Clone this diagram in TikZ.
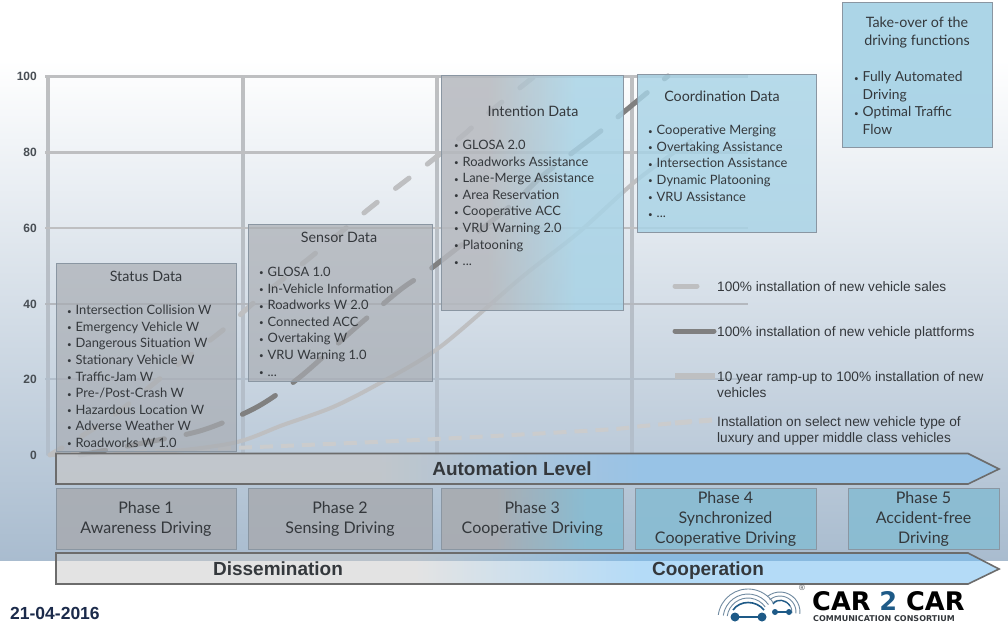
\documentclass[tikz,border=0pt]{standalone}
\usepackage{fontspec}
\setmainfont{Lato}
\newfontfamily\arialfont{Liberation Sans}
\newfontfamily\logofont{DejaVu Sans}
\usetikzlibrary{positioning}
\definecolor{c2c_text}{RGB}{52,56,60}
\definecolor{c2c_axis}{RGB}{72,78,84}
\definecolor{c2c_grid}{RGB}{190,191,193}
\definecolor{c2c_grey}{RGB}{168,172,178}
\definecolor{c2c_blue}{RGB}{168,211,230}
\definecolor{c2c_phase}{RGB}{136,188,210}
\definecolor{c2c_edge}{RGB}{138,150,162}
\definecolor{c2c_logo}{RGB}{30,90,135}
\definecolor{c2c_bgbot}{RGB}{169,188,207}
\definecolor{c2c_gridbot}{RGB}{178,190,203}
\definecolor{c2c_gridmid}{RGB}{180,184,190}
\definecolor{c2c_autoa}{RGB}{194,198,203}
\definecolor{c2c_autob}{RGB}{150,195,232}
\definecolor{c2c_dissa}{RGB}{201,201,201}
\definecolor{c2c_dissb}{RGB}{107,185,241}
\definecolor{c2c_date}{RGB}{27,42,74}
\pgfdeclarehorizontalshading{intentionfade}{100bp}{color(0bp)=(c2c_grey!85!white); color(38bp)=(c2c_grey!85!white); color(62bp)=(c2c_blue); color(100bp)=(c2c_blue)}
\pgfdeclarehorizontalshading{phasefade}{100bp}{color(0bp)=(c2c_grey); color(40bp)=(c2c_grey); color(65bp)=(c2c_phase); color(100bp)=(c2c_phase)}
\pgfdeclarehorizontalshading{autofade}{100bp}{color(0bp)=(c2c_autoa); color(42bp)=(c2c_autoa); color(56bp)=(c2c_autob); color(100bp)=(c2c_autob)}
\pgfdeclarehorizontalshading{dissfade}{100bp}{color(0bp)=(c2c_dissa); color(44bp)=(c2c_dissa); color(56bp)=(c2c_dissb); color(100bp)=(c2c_dissb)}
\newcommand{\lidot}{\makebox[8.5pt][l]{\raisebox{.6pt}{\fontsize{8}{8}\selectfont•}}}
\tikzset{
  gridline/.style={color=c2c_grid,line width=#1},
  databox/.style={draw=c2c_edge,line width=.7pt,fill=c2c_grey,fill opacity=.68,text opacity=1,rectangle,inner sep=0pt},
  bluebox/.style={databox,fill=c2c_blue,fill opacity=.82},
  phasebox/.style={databox,fill=c2c_grey,fill opacity=.9,text=c2c_text,align=center,font=\fontsize{16}{19.8}\selectfont},
  phaseblue/.style={phasebox,fill=c2c_phase},
  title/.style={text=c2c_text,inner sep=0pt,align=center,font=\fontsize{14.3}{18}\selectfont},
  itemlist/.style={text=c2c_text,inner sep=0pt,anchor=north west,align=left,font=\fontsize{12.9}{16.6}\selectfont},
  axislabel/.style={text=c2c_axis,inner sep=0pt,anchor=east,font=\arialfont\bfseries\fontsize{12}{14}\selectfont},
  legendtext/.style={text=c2c_text,inner sep=0pt,anchor=north west,align=left,font=\arialfont\fontsize{13.65}{15.6}\selectfont},
  bigarrow/.style={text=c2c_text,inner sep=0pt,text height=13.5pt,text depth=4pt,font=\arialfont\bfseries\fontsize{19}{22}\selectfont},
  salescurve/.style={color=c2c_grid,line width=5pt,line cap=round,dash pattern=on 17pt off 23pt,dash phase=3pt},
  platformcurve/.style={color=black!50,line width=5pt,line cap=round,dash pattern=on 38pt off 22pt,dash phase=12pt},
  rampcurve/.style={color=c2c_grid,line width=4pt},
  luxurycurve/.style={color=c2c_grid!80!white,line width=4pt,dash pattern=on 13pt off 8pt},
}
\begin{document}
\begin{tikzpicture}[x=1pt,y=-1pt]
    \useasboundingbox (0,0) rectangle (1008,626);
    % background
    \fill[white] (0,0) rectangle (1008,626);
    \shade[top color=white,bottom color=c2c_bgbot] (0,60) rectangle (1008,560);
    % grid
    \foreach \gx in {48,243,437,632} {
        \shade[top color=c2c_grid,bottom color=c2c_gridbot] (\gx-1.5,75) rectangle (\gx+1.5,455);
    }
    \draw[gridline=3pt] (45,76) -- (748,76);
    \draw[gridline=3pt] (45,152) -- (748,152);
    \draw[gridline=2.6pt] (45,228) -- (748,228);
    \draw[gridline=2.2pt,color=c2c_gridmid] (45,304) -- (748,304);
    \draw[gridline=2.2pt,color=c2c_gridbot] (45,379) -- (748,379);
    % axis
    \node[axislabel] (y100) at (37,76) {100};
    \node[axislabel] (y80) at (37,152) {80};
    \node[axislabel] (y60) at (37,228) {60};
    \node[axislabel] (y40) at (37,304) {40};
    \node[axislabel] (y20) at (37,379) {20};
    \node[axislabel] (y0) at (37,455) {0};
    % curves
    \draw[luxurycurve] plot[smooth] coordinates {(50,455) (233,448) (417,440) (600,430) (643,426) (707,420)};
    \draw[rampcurve] plot[smooth] coordinates {(50,455) (150,453) (233,443) (283,425) (333,407) (380,383) (440,347) (522,277) (578,233) (637,180) (692,140)};
    \draw[salescurve] plot[smooth] coordinates {(50,455) (110,418) (167,373) (223,330) (257,300) (317,252) (370,208) (400,185) (430,162) (467,132) (482,118) (526,83) (535,76)};
    \draw[platformcurve] plot[smooth] coordinates {(80,455) (143,443) (203,430) (257,407) (300,377) (353,330) (400,290) (433,267) (509,207) (541,177) (572,153) (602,130) (648,92) (668,76)};
    % data boxes
    \node[databox,minimum width=180pt,minimum height=188pt] (status) at (146,357) {};
    \node[databox,minimum width=184pt,minimum height=157pt] (sensor) at (340,302.5) {};
    \path[shading=intentionfade,shade,fill opacity=.85] (441.5,75) rectangle (623,310);
    \node[draw=c2c_edge,line width=.7pt,minimum width=181.5pt,minimum height=235pt,inner sep=0pt] (intention) at (532.25,192.5) {};
    \node[bluebox,minimum width=179pt,minimum height=158pt] (coordination) at (726.5,153) {};
    \node[bluebox,fill opacity=.95,minimum width=150pt,minimum height=145pt] (takeover) at (917,75) {};
    % titles
    \node[title] (statustitle) at (146,276) {Status Data};
    \node[title] (sensortitle) at (339,237) {Sensor Data};
    \node[title] (intentiontitle) at (533,111) {Intention Data};
    \node[title] (coordtitle) at (722,96) {Coordination Data};
    \node[title] (takeovertitle) at (917,33) {Take-over of the\\driving functions};
    % lists
    \node[itemlist] (statuslist) at (67,305) {\lidot Intersection Collision W\\\lidot Emergency Vehicle W\\\lidot Dangerous Situation W\\\lidot Stationary Vehicle W\\\lidot Traffic-Jam W\\\lidot Pre-/Post-Crash W\\\lidot Hazardous Location W\\\lidot Adverse Weather W\\\lidot Roadworks W 1.0};
    \node[itemlist] (sensorlist) at (259,267) {\lidot GLOSA 1.0\\\lidot In-Vehicle Information\\\lidot Roadworks W 2.0\\\lidot Connected ACC\\\lidot Overtaking W\\\lidot VRU Warning 1.0\\\lidot ...};
    \node[itemlist] (intentionlist) at (454,140) {\lidot GLOSA 2.0\\\lidot Roadworks Assistance\\\lidot Lane-Merge Assistance\\\lidot Area Reservation\\\lidot Cooperative ACC\\\lidot VRU Warning 2.0\\\lidot Platooning\\\lidot ...};
    \node[itemlist] (coordlist) at (648,125) {\lidot Cooperative Merging\\\lidot Overtaking Assistance\\\lidot Intersection Assistance\\\lidot Dynamic Platooning\\\lidot VRU Assistance\\\lidot ...};
    \node[itemlist,font=\fontsize{13.8}{17.5}\selectfont] (takeoverlist) at (854,71.5) {\lidot Fully Automated\\\hspace*{8.5pt}Driving\\\lidot Optimal Traffic\\\hspace*{8.5pt}Flow};
    % legend
    \coordinate (lega) at (675,286);
    \coordinate (legb) at (697,286);
    \draw[color=c2c_grid,line width=5pt,line cap=round] (lega) -- (legb);
    \coordinate (legc) at (675,331);
    \coordinate (legd) at (714,331);
    \draw[color=black!50,line width=5pt,line cap=round] (legc) -- (legd);
    \coordinate (lege) at (675,376);
    \coordinate (legf) at (715,376);
    \draw[color=c2c_grid,line width=6pt] (lege) -- (legf);
    \coordinate (legg) at (675,423);
    \coordinate (legh) at (712,420);
    \draw[luxurycurve,line width=5pt,dash pattern=on 16pt off 8pt] (legg) -- (legh);
    \node[legendtext] (salestext) at (717,281) {100\% installation of new vehicle sales};
    \node[legendtext] (platformtext) at (717,326) {100\% installation of new vehicle plattforms};
    \node[legendtext] (ramptext) at (717,371.5) {10 year ramp-up to 100\% installation of new\\vehicles};
    \node[legendtext] (luxurytext) at (717,416.5) {Installation on select new vehicle type of\\luxury and upper middle class vehicles};
    % automation arrow
    \path[shading=autofade,shade,draw=gray!85!black,line width=1.6pt,fill opacity=.92] (56,453.5) -- (968,453.5) -- (999,469) -- (968,484) -- (56,484) -- cycle;
    \node[bigarrow] (automation) at (512,471) {Automation Level};
    % phases
    \node[phasebox,minimum width=180pt,minimum height=61pt] (phase1) at (146,519) {Phase 1\\Awareness Driving};
    \node[phasebox,minimum width=184pt,minimum height=61pt] (phase2) at (340,519) {Phase 2\\Sensing Driving};
    \path[shading=phasefade,shade,fill opacity=.95] (441.5,488.5) rectangle (623,549.5);
    \node[draw=c2c_edge,line width=.7pt,minimum width=181.5pt,minimum height=61pt,inner sep=0pt,text=c2c_text,align=center,font=\fontsize{16}{19.8}\selectfont] (phase3) at (532.25,519) {Phase 3\\Cooperative Driving};
    \node[phaseblue,minimum width=181pt,minimum height=61pt] (phase4) at (725.5,519) {Phase 4\\Synchronized\\Cooperative Driving};
    \node[phaseblue,minimum width=151pt,minimum height=61pt] (phase5) at (923.5,519) {Phase 5\\Accident-free\\Driving};
    % dissemination arrow
    \path[shading=dissfade,shade,draw=gray!85!black,line width=1.6pt,fill opacity=.5] (56,553) -- (968,553) -- (999,569) -- (968,584) -- (56,584) -- cycle;
    \node[bigarrow] (dissemination) at (278,571) {Dissemination};
    \node[bigarrow] (cooperation) at (708,571) {Cooperation};
    % date
    \node[inner sep=0pt,anchor=west,text=c2c_date,font=\arialfont\bfseries\fontsize{17.5}{20}\selectfont] (date) at (10,613) {21-04-2016};
    % logo
    \foreach \rr in {21,25,30} {
        \draw[c2c_grey!60!c2c_logo,line width=.9pt] (748,619) ++(172:\rr pt) arc[start angle=172,end angle=35,radius=\rr pt];
    }
    \foreach \rr in {12,16,20} {
        \draw[c2c_grey!60!c2c_logo,line width=.9pt] (780,612) ++(130:\rr pt) arc[start angle=130,end angle=-5,radius=\rr pt];
    }
    \draw[c2c_logo,line width=1.6pt] (733,610) .. controls (740,600) and (756,600) .. (764,610);
    \draw[c2c_logo,line width=1.2pt] (773,604) .. controls (778,598) and (786,600) .. (790,606);
    \draw[c2c_logo,line width=2pt] (735,617) -- (762,617);
    \draw[c2c_logo,line width=1.4pt] (775,612) -- (788,612);
    \fill[c2c_logo] (735,617) circle (4.5pt) (762,617) circle (4.5pt) (775,612) circle (3pt) (789,612) circle (3pt);
    \node[inner sep=0pt,text=c2c_axis,font=\arialfont\fontsize{8}{8}\selectfont] (regmark) at (802,588) {®};
    \node[inner sep=0pt,anchor=west,font=\logofont\bfseries\fontsize{25.6}{26}\selectfont] (logotext) at (812,601) {CAR \textcolor{c2c_logo}{2} CAR};
    \node[inner sep=0pt,anchor=west,text=c2c_text,font=\logofont\bfseries\fontsize{8}{8}\selectfont] (logosub) at (813,619) {COMMUNICATION CONSORTIUM};
\end{tikzpicture}
\end{document}
